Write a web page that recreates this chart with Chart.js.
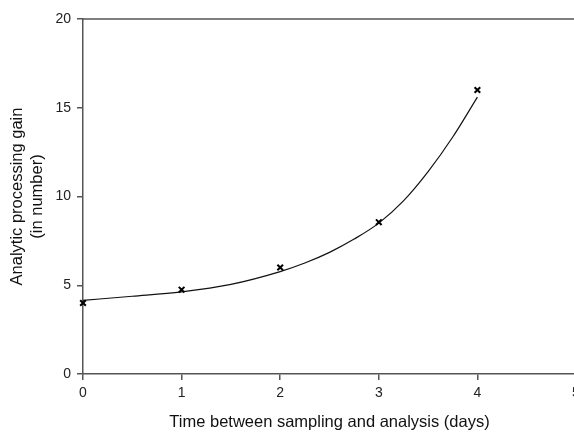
<!DOCTYPE html>
<html>
<head>
<meta charset="utf-8">
<script src="https://cdn.jsdelivr.net/npm/chart.js@4/dist/chart.umd.min.js"></script>
<style>
  html, body { margin: 0; padding: 0; background: #fff; overflow: hidden; }
  #wrap { width: 620px; height: 432px; }
</style>
</head>
<body>
<div id="wrap"><canvas id="gainChart"></canvas></div>
<script>
// measured points (days, gain)
const days = [0, 1, 2, 3, 4];
const gain = [4.0, 4.75, 6.0, 8.55, 16.0];

// fitted curve
const fitDays = [0, 0.5, 1, 1.5, 2, 2.25, 2.5, 2.75, 3, 3.25, 3.5, 3.75, 4];
const fitGain = [4.15, 4.38, 4.63, 5.05, 5.77, 6.25, 6.85, 7.6, 8.5, 9.75, 11.4, 13.35, 15.6];

const xTicks = [0, 1, 2, 3, 4, 5];
const yTicks = [0, 5, 10, 15, 20];

const font = "'Liberation Sans', Arial, sans-serif";
const axisColor = '#555';

// top edge of the frame
const frameTop = {
    id: 'frameTop',
    afterDraw(chart) {
        const a = chart.chartArea;
        const c = chart.ctx;
        c.save();
        c.strokeStyle = axisColor;
        c.lineWidth = 1.5;
        c.beginPath();
        c.moveTo(a.left, a.top);
        c.lineTo(chart.width, a.top);
        c.stroke();
        c.restore();
    }
};

const ctx = document.getElementById('gainChart').getContext('2d');
new Chart(ctx, {
    type: 'scatter',
    data: {
        datasets: [{
            label: 'fit',
            data: fitDays.map((d, i) => ({ x: d, y: fitGain[i] })),
            showLine: true,
            borderColor: '#111',
            borderWidth: 1.2,
            pointRadius: 0,
            cubicInterpolationMode: 'monotone',
            order: 2
        }, {
            label: 'measured',
            data: days.map((d, i) => ({ x: d, y: gain[i] })),
            pointStyle: 'crossRot',
            pointRadius: 4,
            pointBorderWidth: 2,
            borderColor: '#000',
            backgroundColor: '#000',
            clip: false,
            order: 1
        }]
    },
    options: {
        responsive: true,
        maintainAspectRatio: false,
        animation: false,
        layout: { padding: { top: 19, right: 44, left: 0, bottom: 0 } },
        plugins: {
            legend: { display: false },
            tooltip: { enabled: false }
        },
        scales: {
            x: {
                type: 'linear',
                min: 0,
                max: 5,
                afterBuildTicks: s => { s.ticks = xTicks.map(v => ({ value: v })); },
                afterFit: s => { s.height = 58; },
                grid: { drawOnChartArea: false, tickLength: 6, color: axisColor, lineWidth: 1.5 },
                border: { color: axisColor, width: 1.5 },
                ticks: { color: '#222', padding: 5, font: { family: font, size: 14 } },
                title: {
                    display: true,
                    text: 'Time between sampling and analysis (days)',
                    color: '#111',
                    padding: { top: 0, bottom: 0 },
                    font: { family: font, size: 16.5, lineHeight: 1.2 }
                }
            },
            y: {
                type: 'linear',
                min: 0,
                max: 20,
                afterBuildTicks: s => { s.ticks = yTicks.map(v => ({ value: v })); },
                afterFit: s => { s.width = 83; },
                grid: { drawOnChartArea: false, tickLength: 6, color: axisColor, lineWidth: 1.5 },
                border: { color: axisColor, width: 1.5 },
                ticks: { color: '#222', padding: 6, font: { family: font, size: 14 } },
                title: {
                    display: true,
                    text: ['Analytic processing gain', '(in number)'],
                    color: '#111',
                    padding: { top: 8, bottom: 0 },
                    font: { family: font, size: 16.5, lineHeight: 1.2 }
                }
            }
        }
    },
    plugins: [frameTop]
});
</script>
</body>
</html>
